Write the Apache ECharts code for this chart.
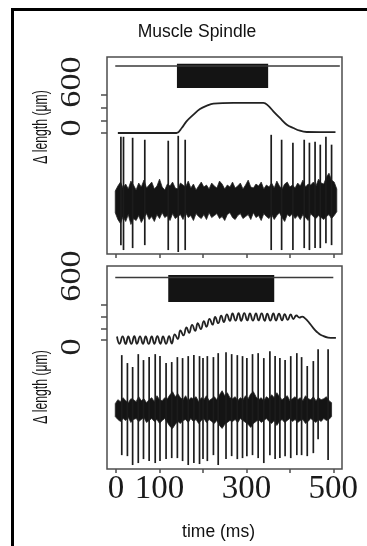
<!DOCTYPE html>
<html>
<head>
<meta charset="utf-8">
<script src="https://cdn.jsdelivr.net/npm/echarts@6/dist/echarts.min.js"></script>
<style>
  html, body { margin: 0; padding: 0; background: #fff; }
  #chart { width: 367px; height: 546px; }
</style>
</head>
<body>
<div id="chart"></div>
<script>
// ---- axis ticks ----
const timeTicks = [0, 100, 200, 300, 400, 500];
const timeTickLabels = [0, 100, 300, 500];
const lengthTicks = [0, 200, 400, 600];

// ---- upper record: stretch without vibration ----
const stimWindow1 = [140, 350];          // ms, stimulus bar
const stimTrace1 = [-2, 515];            // ms, extent of the marker trace
const lengthTime1 = [4, 139, 151, 162, 178, 193, 209, 224, 270, 339, 350, 362, 377, 393, 408, 423, 439, 470, 505];
const lengthValue1 = [0, 0, 79, 184, 290, 380, 432, 463, 474, 474, 432, 342, 237, 131, 79, 36, 16, 14, 14];
const spikeTime1 = [11, 17, 38, 66, 120, 143, 159, 357, 381, 407, 433, 445, 458, 470, 483, 496];
const spikeTop1 = [65, 65, 64, 62, 61, 66, 62, 67, 62, 59, 62, 59, 60, 57, 65, 57];
const spikeBottom1 = [-45, -50, -48, -45, -50, -52, -50, -50, -50, -50, -48, -50, -48, -48, -43, -45];
const noiseTime1 = [-2, 4, 10, 16, 22, 28, 34, 40, 46, 52, 58, 64, 70, 76, 82, 88, 94, 100, 106, 112,
  118, 124, 130, 136, 142, 148, 154, 160, 166, 172, 178, 184, 190, 196, 202, 208, 214, 220, 226, 232,
  238, 244, 250, 256, 262, 268, 274, 280, 286, 292, 298, 304, 310, 316, 322, 328, 334, 340, 346, 352,
  358, 364, 370, 376, 382, 388, 394, 400, 406, 412, 418, 424, 430, 436, 442, 448, 454, 460, 466, 472,
  478, 484, 490, 496, 502, 508];
const noiseUpper1 = [10, 15, 19, 13, 17, 12, 20, 16, 11, 18, 14, 21, 13, 16, 19, 12, 15, 22, 14, 11,
  17, 15, 19, 13, 12, 18, 16, 14, 20, 13, 17, 11, 15, 19, 14, 16, 12, 18, 15, 13,
  20, 17, 12, 16, 14, 19, 13, 15, 18, 12, 16, 21, 14, 13, 17, 15, 19, 12, 16, 14,
  18, 13, 20, 15, 12, 17, 19, 14, 16, 13, 18, 15, 21, 14, 17, 16, 19, 15, 22, 18,
  17, 24, 28, 21, 19, 12];
const noiseLower1 = [-12, -19, -23, -16, -21, -14, -24, -18, -20, -15, -22, -17, -13, -19, -16, -21, -14, -18, -12, -17,
  -15, -20, -13, -18, -16, -14, -19, -12, -17, -15, -20, -13, -16, -18, -14, -19, -12, -17, -15, -13,
  -18, -16, -20, -14, -12, -17, -19, -15, -13, -18, -16, -14, -19, -12, -17, -15, -20, -13, -16, -18,
  -14, -19, -15, -12, -17, -21, -14, -16, -13, -18, -15, -19, -14, -17, -20, -13, -16, -18, -15, -17,
  -19, -16, -14, -18, -15, -11];

// ---- lower record: stretch with superimposed vibration ----
const stimWindow2 = [120, 364];
const stimTrace2 = [-2, 500];
const lengthTime2 = [2, 8, 15, 22, 28, 35, 42, 48, 55, 62, 68, 75, 82, 88, 95, 102, 108, 115, 122, 128,
  135, 142, 148, 155, 162, 168, 175, 182, 188, 195, 202, 208, 215, 222, 228, 235, 242, 248, 255, 262,
  268, 275, 282, 288, 295, 302, 308, 315, 322, 328, 335, 342, 348, 355, 362, 368, 375, 382, 388, 395,
  402, 408, 415, 422, 428, 435, 445, 458, 466, 474, 488, 500, 506];
const lengthValue2 = [60, -65, 62, -68, 60, -66, 64, -65, 62, -66, 60, -68, 62, -66, 64, -64, 62, -65, 66, -60,
  98, 17, 163, 79, 218, 122, 258, 157, 288, 187, 323, 227, 363, 262, 395, 288, 418, 308, 438, 328,
  457, 333, 460, 330, 462, 335, 455, 332, 458, 336, 456, 330, 452, 332, 455, 334, 450, 338, 445, 345,
  438, 360, 420, 385, 400, 370, 290, 170, 115, 78, 42, 35, 35];
const spikeTime2 = [13, 26, 38, 51, 63, 76, 90, 101, 115, 128, 141, 153, 166, 179, 192, 200, 210, 224, 235, 253,
  266, 279, 291, 301, 314, 327, 340, 354, 366, 377, 389, 402, 416, 427, 440, 454, 465, 488];
const spikeTop2 = [55, 47, 43, 56, 50, 53, 56, 54, 47, 48, 53, 52, 54, 55, 54, 52, 54, 53, 57, 58,
  56, 55, 54, 52, 56, 57, 52, 59, 54, 52, 50, 54, 57, 53, 44, 49, 61, 61];
const spikeBottom2 = [-46, -47, -56, -54, -50, -52, -54, -52, -50, -49, -49, -52, -56, -54, -55, -50, -52, -46, -56, -50,
  -47, -50, -49, -47, -46, -49, -54, -46, -50, -49, -47, -49, -46, -46, -47, -44, -30, -51];
const noiseTime2 = [-2, 4, 10, 16, 22, 28, 34, 40, 46, 52, 58, 64, 70, 76, 82, 88, 94, 100, 106, 112,
  118, 124, 130, 136, 142, 148, 154, 160, 166, 172, 178, 184, 190, 196, 202, 208, 214, 220, 226, 232,
  238, 244, 250, 256, 262, 268, 274, 280, 286, 292, 298, 304, 310, 316, 322, 328, 334, 340, 346, 352,
  358, 364, 370, 376, 382, 388, 394, 400, 406, 412, 418, 424, 430, 436, 442, 448, 454, 460, 466, 472,
  478, 484, 490, 496];
const noiseUpper2 = [6, 10, 8, 12, 9, 7, 11, 10, 8, 13, 9, 11, 7, 10, 12, 8, 14, 10, 9, 12,
  11, 15, 18, 13, 16, 12, 10, 14, 9, 12, 11, 13, 8, 12, 10, 14, 9, 11, 13, 10,
  15, 19, 14, 17, 12, 11, 13, 9, 12, 10, 14, 11, 16, 18, 13, 10, 12, 9, 13, 11,
  15, 12, 17, 13, 10, 12, 14, 9, 11, 13, 10, 12, 9, 14, 11, 10, 13, 9, 12, 10,
  11, 13, 9, 7];
const noiseLower2 = [-7, -10, -12, -9, -11, -8, -13, -10, -9, -12, -10, -8, -13, -11, -9, -12, -10, -14, -11, -9,
  -13, -17, -19, -15, -12, -14, -11, -10, -13, -9, -12, -10, -14, -11, -9, -13, -10, -12, -14, -11,
  -16, -19, -15, -13, -11, -12, -10, -13, -9, -11, -13, -15, -18, -14, -12, -10, -13, -11, -9, -12,
  -14, -11, -16, -12, -10, -13, -11, -9, -12, -10, -13, -11, -10, -14, -12, -9, -11, -13, -10, -12,
  -9, -11, -10, -7];

// ---- panel layout: frame box and axis ranges (length µm, marker, nerve record) ----
const panels = [
  { top: 57, height: 197, len: [-1911, 1200], stim: [-7.55, 1.41], nerve: [-54, 146],
    stimWindow: stimWindow1, stimTrace: stimTrace1,
    lengthTime: lengthTime1, lengthValue: lengthValue1, smooth: 0.4,
    spikeTime: spikeTime1, spikeTop: spikeTop1, spikeBottom: spikeBottom1,
    noiseTime: noiseTime1, noiseUpper: noiseUpper1, noiseLower: noiseLower1,
    labelY: { l600: 82, l0: 128, name: 127 } },
  { top: 266, height: 203, len: [-2212, 1269], stim: [-6.82, 1.47], nerve: [-60, 145],
    stimWindow: stimWindow2, stimTrace: stimTrace2,
    lengthTime: lengthTime2, lengthValue: lengthValue2, smooth: 0.5,
    spikeTime: spikeTime2, spikeTop: spikeTop2, spikeBottom: spikeBottom2,
    noiseTime: noiseTime2, noiseUpper: noiseUpper2, noiseLower: noiseLower2,
    labelY: { l600: 276, l0: 347, name: 387 } }
];

const INK = '#141414';
const FRAME = '#4d4d4d';
const SERIF = "'Liberation Serif', 'DejaVu Serif', serif";
const SANS = "'Liberation Sans', Arial, sans-serif";

const grid = [], xAxis = [], yAxis = [], series = [], graphic = [];

// outer frame (top and left rules)
graphic.push({
  type: 'polyline', silent: true,
  shape: { points: [[12.5, 546], [12.5, 9.5], [367, 9.5]] },
  style: { stroke: '#000', lineWidth: 3, fill: 'none' }
});
graphic.push({
  type: 'text', x: 197, y: 32, silent: true,
  style: { text: 'Muscle Spindle', fontSize: 17.5, fontFamily: SANS, fill: '#111', align: 'center', verticalAlign: 'middle' }
});
graphic.push({
  type: 'text', x: 218.5, y: 532, silent: true,
  style: { text: 'time (ms)', fontSize: 17.5, fontFamily: SANS, fill: '#111', align: 'center', verticalAlign: 'middle' }
});

// nerve record background activity: one filled outline through the upper
// envelope (left to right) and back along the lower envelope
function noiseRenderer(T, U, L) {
  return function (params, api) {
    if (params.dataIndex !== 0) return null;
    const pts = [];
    for (let k = 0; k < T.length; k++) pts.push(api.coord([T[k], U[k]]));
    for (let k = T.length - 1; k >= 0; k--) pts.push(api.coord([T[k], L[k]]));
    return { type: 'polygon', shape: { points: pts },
             style: { fill: INK, stroke: '#262626', lineWidth: 0.8 } };
  };
}

// one action potential: vertical stroke from its trough to its peak
function spikeRenderer(params, api) {
  const t = api.value(0);
  const a = api.coord([t, api.value(1)]);
  const b = api.coord([t, api.value(2)]);
  return { type: 'line', shape: { x1: a[0], y1: a[1], x2: b[0], y2: b[1] },
           style: { stroke: '#1c1c1c', lineWidth: 1.7 } };
}

panels.forEach(function (p, i) {
  const isLast = i === panels.length - 1;
  grid.push({ left: 107, top: p.top, width: 235, height: p.height, show: true,
              borderColor: FRAME, borderWidth: 1.5, backgroundColor: 'transparent', containLabel: false });

  xAxis.push({
    type: 'value', gridIndex: i, min: -21, max: 520, position: 'bottom',
    axisLine: { show: false, onZero: false },
    splitLine: { show: false },
    axisTick: { show: true, inside: false, length: 4, customValues: timeTicks, lineStyle: { color: FRAME, width: 1.5 } },
    axisLabel: isLast
      ? { show: true, customValues: timeTickLabels, fontSize: 33, fontFamily: SERIF, color: '#1a1a1a', margin: 4 }
      : { show: false }
  });

  // length (µm) axis with the 0–600 scale ticks
  yAxis.push({
    type: 'value', gridIndex: i, min: p.len[0], max: p.len[1], position: 'left',
    axisLine: { show: false, onZero: false }, splitLine: { show: false },
    axisTick: { show: true, inside: false, length: 6, customValues: lengthTicks, lineStyle: { color: FRAME, width: 1.5 } },
    axisLabel: { show: false }
  });
  // stimulus marker axis
  yAxis.push({ type: 'value', gridIndex: i, min: p.stim[0], max: p.stim[1], show: false,
               axisLine: { onZero: false }, splitLine: { show: false } });
  // nerve record axis
  yAxis.push({ type: 'value', gridIndex: i, min: p.nerve[0], max: p.nerve[1], show: false,
               axisLine: { onZero: false }, splitLine: { show: false } });

  const yLen = 3 * i, yStim = 3 * i + 1, yNerve = 3 * i + 2;

  series.push({
    type: 'line', xAxisIndex: i, yAxisIndex: yStim, silent: true,
    data: p.stimTrace.map(function (t) { return [t, 1]; }),
    symbol: 'none', lineStyle: { color: '#3a3a3a', width: 1.4 },
    markArea: {
      silent: true,
      itemStyle: { color: '#141414', opacity: 1 },
      data: [[{ coord: [p.stimWindow[0], 0] }, { coord: [p.stimWindow[1], 1.1] }]]
    }
  });

  series.push({
    type: 'line', xAxisIndex: i, yAxisIndex: yLen, silent: true,
    data: p.lengthTime.map(function (t, k) { return [t, p.lengthValue[k]]; }),
    smooth: p.smooth, symbol: 'none', lineStyle: { color: '#222', width: 1.8 }
  });

  series.push({
    type: 'custom', xAxisIndex: i, yAxisIndex: yNerve, silent: true,
    data: p.noiseTime.map(function (t, k) { return [t, p.noiseLower[k], p.noiseUpper[k]]; }),
    encode: { x: 0, y: [1, 2] },
    renderItem: noiseRenderer(p.noiseTime, p.noiseUpper, p.noiseLower)
  });

  series.push({
    type: 'custom', xAxisIndex: i, yAxisIndex: yNerve, silent: true,
    data: p.spikeTime.map(function (t, k) { return [t, p.spikeBottom[k], p.spikeTop[k]]; }),
    encode: { x: 0, y: [1, 2] },
    renderItem: spikeRenderer
  });

  // rotated scale numbers and axis name
  graphic.push({
    type: 'text', x: 72.5, y: p.labelY.l600, rotation: Math.PI / 2, scaleX: 1.18, silent: true,
    style: { text: '600', fontSize: 29, fontFamily: SERIF, fill: '#1e1e1e', align: 'center', verticalAlign: 'middle' }
  });
  graphic.push({
    type: 'text', x: 72.5, y: p.labelY.l0, rotation: Math.PI / 2, scaleX: 1.18, silent: true,
    style: { text: '0', fontSize: 29, fontFamily: SERIF, fill: '#1e1e1e', align: 'center', verticalAlign: 'middle' }
  });
  graphic.push({
    type: 'text', x: 41.5, y: p.labelY.name, rotation: Math.PI / 2, scaleX: 0.61, silent: true,
    style: { text: 'Δ length (μm)', fontSize: 20, fontFamily: SANS, fill: '#111', align: 'center', verticalAlign: 'middle' }
  });
});

const chart = echarts.init(document.getElementById('chart'), null, { renderer: 'canvas' });
chart.setOption({
  animation: false,
  backgroundColor: '#fff',
  grid: grid,
  xAxis: xAxis,
  yAxis: yAxis,
  series: series,
  graphic: graphic
});
</script>
</body>
</html>
